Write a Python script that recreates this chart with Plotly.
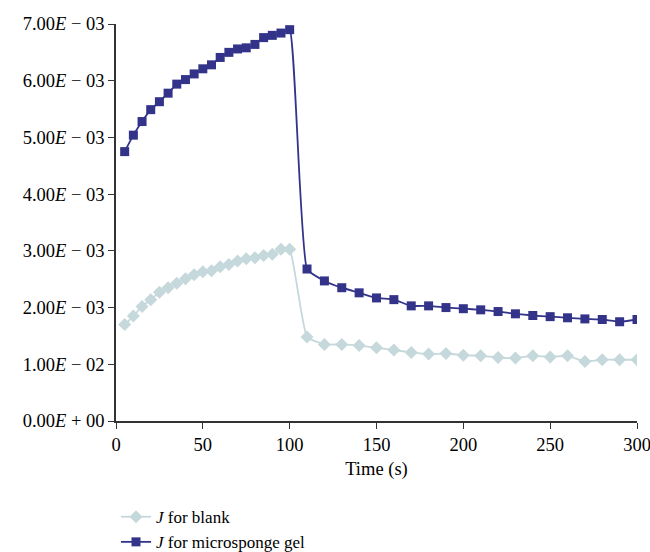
import plotly.graph_objects as go

time_s = [5, 10, 15, 20, 25, 30, 35, 40, 45, 50, 55, 60, 65, 70, 75, 80, 85, 90, 95, 100,
          110, 120, 130, 140, 150, 160, 170, 180, 190, 200, 210, 220, 230, 240, 250, 260,
          270, 280, 290, 300]

j_blank = [1.70, 1.85, 2.02, 2.14, 2.27, 2.35, 2.43, 2.51, 2.58, 2.63, 2.65, 2.72, 2.76,
           2.82, 2.86, 2.88, 2.92, 2.94, 3.03, 3.03,
           1.48, 1.35, 1.35, 1.33, 1.29, 1.25, 1.21, 1.18, 1.19, 1.16, 1.15, 1.12, 1.11,
           1.15, 1.13, 1.15, 1.05, 1.08, 1.08, 1.08]
j_blank = [v * 1e-3 for v in j_blank]

j_gel = [4.75, 5.04, 5.28, 5.49, 5.63, 5.78, 5.94, 6.02, 6.12, 6.21, 6.28, 6.41, 6.50,
         6.56, 6.58, 6.64, 6.76, 6.80, 6.84, 6.90,
         2.68, 2.47, 2.35, 2.26, 2.17, 2.14, 2.03, 2.03, 2.00, 1.98, 1.96, 1.93, 1.89,
         1.86, 1.84, 1.82, 1.80, 1.79, 1.75, 1.79]
j_gel = [v * 1e-3 for v in j_gel]

y_tickvals = [0, 0.001, 0.002, 0.003, 0.004, 0.005, 0.006, 0.007]
y_ticktext = ["0.00<i>E</i> + 00", "1.00<i>E</i> − 02", "2.00<i>E</i> − 03",
              "3.00<i>E</i> − 03", "4.00<i>E</i> − 03", "5.00<i>E</i> − 03",
              "6.00<i>E</i> − 03", "7.00<i>E</i> − 03"]
x_tickvals = [0, 50, 100, 150, 200, 250, 300]

FONT = "Liberation Serif"
FS = 18.5
BLANK_COLOR = "#c5d8db"
GEL_COLOR = "#33338a"

fig = go.Figure()
fig.add_trace(go.Scatter(
    x=time_s, y=j_blank, mode="lines+markers", name="<i>J</i> for blank",
    line=dict(color=BLANK_COLOR, width=1.8, shape="spline", smoothing=0.4),
    marker=dict(symbol="diamond", size=10, color=BLANK_COLOR),
))
fig.add_trace(go.Scatter(
    x=time_s, y=j_gel, mode="lines+markers", name="<i>J</i> for microsponge gel",
    line=dict(color=GEL_COLOR, width=1.8, shape="spline", smoothing=0.4),
    marker=dict(symbol="square", size=9, color=GEL_COLOR),
))

fig.update_layout(
    width=650, height=552,
    margin=dict(l=116, r=13, t=24, b=131, autoexpand=False),
    plot_bgcolor="white", paper_bgcolor="white",
    font=dict(family=FONT, size=FS, color="black"),
    showlegend=True,
    legend=dict(x=0.0, y=-0.197, xanchor="left", yanchor="top",
                font=dict(family=FONT, size=17, color="black"),
                bgcolor="rgba(0,0,0,0)", tracegroupgap=0),
    xaxis=dict(range=[0, 300], tickvals=x_tickvals, showgrid=False, zeroline=False,
               automargin=False, ticklabeloverflow="allow",
               showline=True, linecolor="#333333", linewidth=1.5,
               ticks="outside", ticklen=6, tickcolor="#333333",
               title=dict(text="Time (s)", standoff=8, font=dict(family=FONT, size=FS))),
    yaxis=dict(range=[0, 0.007], tickvals=y_tickvals, ticktext=y_ticktext,
               automargin=False,
               showgrid=False, zeroline=False, showline=True, linecolor="#333333",
               linewidth=1.5, ticks="outside", ticklen=6, tickcolor="#333333"),
)

fig.write_html("out.html", config={"displayModeBar": False},
               post_script="document.body.style.margin='0';document.body.style.overflow='hidden';")
